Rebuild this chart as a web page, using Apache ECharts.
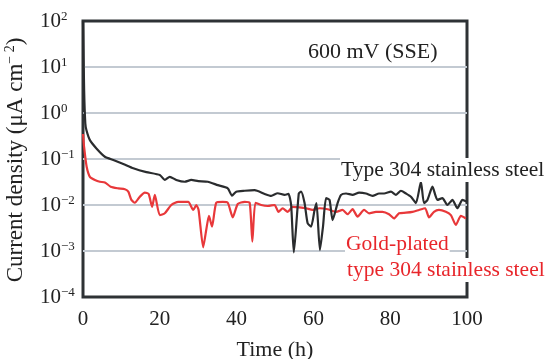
<!DOCTYPE html>
<html>
<head>
<meta charset="utf-8">
<script src="https://cdn.jsdelivr.net/npm/echarts@6/dist/echarts.min.js"></script>
<style>html,body{margin:0;padding:0;background:#fff}#c{width:548px;height:359px}</style>
</head>
<body>
<div id="c"></div>
<script>
// Time (h) and current density (μA cm^-2)
var blackTime = [0, 0.3, 0.6, 0.9, 1.8, 3.5, 5.7, 7.9, 10.5, 13.1, 16.5, 20, 21.3, 22.6, 24.3, 26.5, 28.2, 30, 32.5, 35.1, 37.7, 38.8, 39.9, 42.1, 44.7, 47.3, 49, 50.7, 52.5, 53.5, 54.2, 54.9, 56.2, 56.8, 57.7, 58.5, 59.4, 60.3, 60.8, 61.7, 62.5, 63.3, 64.2, 65, 66.3, 67.2, 68.5, 70.2, 71.9, 73.7, 75.4, 77.1, 78.4, 80.2, 81.5, 82.8, 84.1, 85.4, 86.7, 88, 88.8, 89.7, 91, 92.3, 93.6, 94.9, 96.2, 97.5, 98.8, 100];
var blackValue = [100, 3, 0.6, 0.42, 0.257, 0.17, 0.112, 0.095, 0.078, 0.063, 0.052, 0.045, 0.035, 0.041, 0.035, 0.032, 0.035, 0.033, 0.032, 0.027, 0.023, 0.016, 0.0195, 0.0204, 0.021, 0.0174, 0.0158, 0.018, 0.0166, 0.0174, 0.01, 0.00093, 0.0178, 0.0195, 0.011, 0.004, 0.0034, 0.0078, 0.011, 0.00105, 0.0034, 0.0141, 0.0129, 0.0047, 0.011, 0.0166, 0.0178, 0.0166, 0.0186, 0.0178, 0.0158, 0.0178, 0.0178, 0.0195, 0.0166, 0.0204, 0.0178, 0.0151, 0.011, 0.032, 0.011, 0.0129, 0.025, 0.0129, 0.0141, 0.01, 0.0129, 0.0085, 0.0129, 0.0117];
var redTime = [0, 0.3, 0.95, 1.8, 3.1, 4.4, 5.7, 7.2, 9.2, 10.9, 11.8, 12.6, 13.5, 14.8, 16.1, 17.1, 18, 18.7, 20, 21.3, 23, 24.8, 27.4, 28.7, 29.5, 30.1, 31.3, 32.1, 32.8, 33.6, 34.7, 36.4, 37.7, 39, 40.3, 42.1, 43.4, 44.1, 44.9, 46.4, 48.1, 49.9, 50.9, 52, 53.3, 54.6, 56.4, 58.1, 59.8, 61.6, 63.7, 65.9, 67.6, 68.9, 70.2, 71.5, 73.2, 74.5, 76.3, 78, 79.7, 81, 82.3, 84.1, 85.8, 87.5, 89.1, 90.1, 91.4, 92.7, 94.5, 95.8, 97.1, 98.4, 99.7];
var redValue = [0.35, 0.178, 0.068, 0.041, 0.035, 0.032, 0.031, 0.025, 0.023, 0.022, 0.0195, 0.0129, 0.0112, 0.0151, 0.0186, 0.0174, 0.0091, 0.0166, 0.006, 0.0066, 0.01, 0.0117, 0.0117, 0.0078, 0.01, 0.0078, 0.0012, 0.0029, 0.0058, 0.0034, 0.0112, 0.0117, 0.0112, 0.0054, 0.0105, 0.0117, 0.0112, 0.0016, 0.0112, 0.01, 0.0095, 0.01, 0.0071, 0.0085, 0.0071, 0.0091, 0.0089, 0.0085, 0.0078, 0.0085, 0.0081, 0.0071, 0.0078, 0.0063, 0.0081, 0.0056, 0.0078, 0.0066, 0.0071, 0.0071, 0.0063, 0.0051, 0.0066, 0.0068, 0.0071, 0.0078, 0.0085, 0.0054, 0.0071, 0.0078, 0.0071, 0.006, 0.0037, 0.0058, 0.0051];
var xTicks = [0, 20, 40, 60, 80, 100];

function pairs(t, v) { return t.map(function (x, i) { return [x, v[i]]; }); }
var FONT = '"Liberation Serif", "DejaVu Serif", serif';

var chart = echarts.init(document.getElementById('c'), null, { renderer: 'canvas' });
chart.setOption({
  backgroundColor: '#fff',
  animation: false,
  grid: { left: 83, right: 81, top: 21, bottom: 62, outerBoundsMode: 'none', containLabel: false,
    show: true, borderColor: '#2e3235', borderWidth: 3, backgroundColor: 'transparent' },
  xAxis: {
    type: 'value', min: xTicks[0], max: xTicks[xTicks.length - 1], interval: 20,
    axisLine: { show: false }, axisTick: { show: false }, splitLine: { show: false },
    axisLabel: { color: '#222', fontFamily: FONT, fontSize: 21, margin: 12 },
    name: 'Time (h)', nameLocation: 'middle', nameGap: 42,
    nameTextStyle: { color: '#222', fontFamily: FONT, fontSize: 22 }
  },
  yAxis: {
    type: 'log', logBase: 10, min: 1e-4, max: 100, interval: 1,
    axisLine: { show: false }, axisTick: { show: false },
    splitLine: { show: true, showMinLine: false, showMaxLine: false, lineStyle: { color: '#c3cad2', width: 2 } },
    axisLabel: {
      align: 'left', margin: 43, color: '#222',
      formatter: function (v) {
        var e = Math.round(Math.log10(v));
        return '{b|10}{s|' + (e < 0 ? '\u2212' + (-e) : e) + '}';
      },
      rich: {
        b: { fontFamily: FONT, fontSize: 21, lineHeight: 22, color: '#222' },
        s: { fontFamily: FONT, fontSize: 13, lineHeight: 12, color: '#222', verticalAlign: 'top' }
      }
    }
  },
  graphic: [
    { type: 'text', z: 100, x: 16, y: 160, rotation: Math.PI / 2,
      style: { text: '{a|Current density (\u03bcA cm}{s|\u2212 2}{a|)}', align: 'center', verticalAlign: 'middle',
        rich: { a: { fontFamily: FONT, fontSize: 23, lineHeight: 25, fill: '#222', color: '#222' },
                s: { fontFamily: FONT, fontSize: 14, lineHeight: 14, fill: '#222', color: '#222', verticalAlign: 'top' } } } },
    { type: 'text', z: 100, x: 308, y: 52,
      style: { text: '600 mV (SSE)', font: '22px ' + FONT, fill: '#222', verticalAlign: 'middle', align: 'left' } },
    { type: 'text', z: 100, x: 340, y: 170,
      style: { text: 'Type 304 stainless steel', font: '21.5px ' + FONT, fill: '#222', verticalAlign: 'middle', align: 'left', backgroundColor: '#fff', padding: [1, 1] } },
    { type: 'text', z: 100, x: 345, y: 244,
      style: { text: 'Gold-plated', font: '21.5px ' + FONT, fill: '#e8262b', verticalAlign: 'middle', align: 'left', backgroundColor: '#fff', padding: [1, 1] } },
    { type: 'text', z: 100, x: 346, y: 270,
      style: { text: 'type 304 stainless steel', font: '21.5px ' + FONT, fill: '#e8262b', verticalAlign: 'middle', align: 'left', backgroundColor: '#fff', padding: [1, 1] } }
  ],
  series: [
    { name: 'Type 304 stainless steel', type: 'line', data: pairs(blackTime, blackValue), showSymbol: false, z: 3, smooth: 0.2,
      lineStyle: { color: '#2a2c2e', width: 2.2 }, itemStyle: { color: '#2a2c2e' } },
    { name: 'Gold-plated type 304 stainless steel', type: 'line', data: pairs(redTime, redValue), showSymbol: false, z: 2, smooth: 0.2,
      lineStyle: { color: '#e8383a', width: 2.2 }, itemStyle: { color: '#e8383a' } }
  ]
});
</script>
</body>
</html>
